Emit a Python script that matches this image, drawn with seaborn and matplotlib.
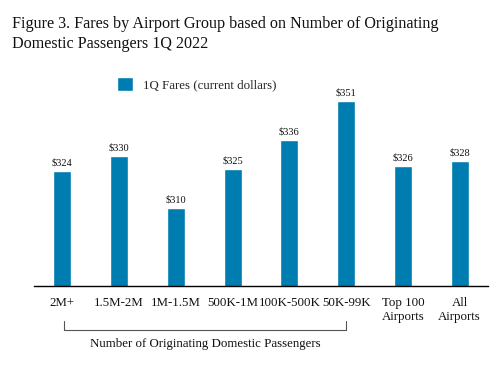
import matplotlib
matplotlib.use("Agg")
import matplotlib.pyplot as plt
import seaborn as sns
import pandas as pd

categories = ["2M+", "1.5M-2M", "1M-1.5M", "500K-1M", "100K-500K", "50K-99K",
              "Top 100\nAirports", "All\nAirports"]
fares = [324, 330, 310, 325, 336, 351, 326, 328]
value_labels = ["$324", "$330", "$310", "$325", "$336", "$351", "$326", "$328"]
series_name = "1Q Fares (current dollars)"

sns.set_theme(style="white")
plt.rcParams["font.family"] = ["Liberation Serif", "DejaVu Serif"]

df = pd.DataFrame({"cat": categories, "fare": fares})

fig = plt.figure(figsize=(5, 3.67), dpi=100)
ax = fig.add_axes([0.068, 0.2215, 0.908, 0.5665])
sns.barplot(data=df, x="cat", y="fare", color="#007DB0", width=0.32,
            saturation=1, label=series_name, ax=ax)
ax.set_ylim(280, 360)
ax.set_xlim(-0.5, 7.5)
for s in ["top", "right", "left"]:
    ax.spines[s].set_visible(False)
ax.spines["bottom"].set_color("black")
ax.spines["bottom"].set_linewidth(1.0)
ax.set_yticks([])
ax.set_xlabel("")
ax.set_ylabel("")
ax.tick_params(axis="x", length=0, pad=8, labelsize=9.3, colors="#111111")
for lbl in ax.get_xticklabels():
    lbl.set_linespacing(1.25)

for i, (v, t) in enumerate(zip(fares, value_labels)):
    ax.text(i, v + 1.4, t, ha="center", va="bottom", fontsize=7.5, color="#111111")

leg = ax.legend(loc="center left", bbox_to_anchor=(117 / 500, (367 - 84) / 367),
                bbox_transform=fig.transFigure, frameon=False, borderpad=0,
                borderaxespad=0, fontsize=9.3, handlelength=1.25, handleheight=1.25,
                handletextpad=0.8)

fig.text(0.024, 0.956, "Figure 3. Fares by Airport Group based on Number of Originating\nDomestic Passengers 1Q 2022",
         ha="left", va="top", fontsize=11.6, color="#111111", linespacing=1.3)

# bracket under first six categories
y0 = (367 - 321) / 367
y1 = (367 - 330) / 367
x0 = 64 / 500
x1 = 346 / 500
fig.add_artist(plt.Line2D([x0, x0, x1, x1], [y0, y1, y1, y0], color="#555555",
                          lw=0.8, transform=fig.transFigure))
fig.text((x0 + x1) / 2, (367 - 344) / 367, "Number of Originating Domestic Passengers",
         ha="center", va="center", fontsize=9.3, color="#111111")

fig.savefig("out.png", dpi=100)
